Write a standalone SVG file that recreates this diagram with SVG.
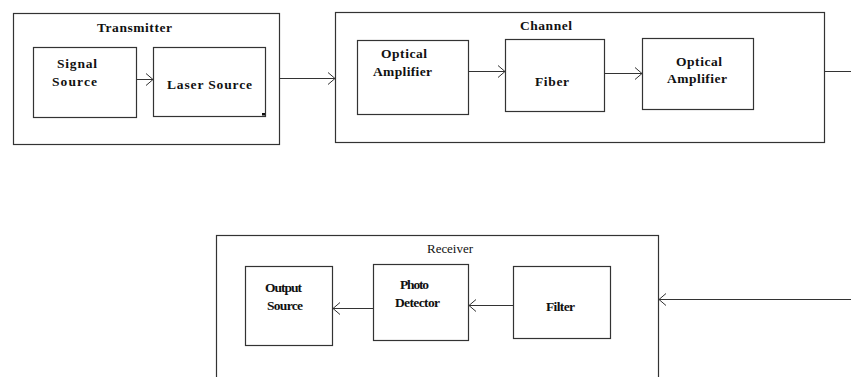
<svg xmlns="http://www.w3.org/2000/svg" width="851" height="377" viewBox="0 0 851 377">
<defs>
<marker id="ah" markerWidth="10" markerHeight="14" refX="8" refY="7" orient="auto" markerUnits="userSpaceOnUse">
<polyline points="1,1 8,7 1,13" fill="none" stroke="#333" stroke-width="1"/>
</marker>
</defs>
<style>
rect.b{fill:#fff;stroke:#333;stroke-width:1.2}
text{font-family:'Liberation Serif','Times New Roman',serif;font-size:13.5px;fill:#111}
.t{font-weight:bold}
.r{font-weight:normal;font-size:13px}
line.c{stroke:#333;stroke-width:1}
</style>
<rect width="851" height="377" fill="#fff"/>
<g id="transmitter">
<rect class="b" x="13.5" y="13.5" width="266" height="131"/>
<text class="t" x="97" y="32" textLength="75" lengthAdjust="spacing">Transmitter</text>
</g>
<g id="signal-source">
<rect class="b" x="33.5" y="47.5" width="103" height="70"/>
<text class="t" x="57" y="68" textLength="40" lengthAdjust="spacing">Signal</text>
<text class="t" x="52" y="86" textLength="45" lengthAdjust="spacing">Source</text>
</g>
<g id="laser-source">
<rect class="b" x="153.5" y="47.5" width="112" height="69"/>
<rect x="262" y="113" width="3" height="2.5" fill="#111"/>
<text class="t" x="167" y="89" textLength="85" lengthAdjust="spacing">Laser Source</text>
</g>
<g id="channel">
<rect class="b" x="335.5" y="12.5" width="489" height="130"/>
<text class="t" x="520" y="30" textLength="52" lengthAdjust="spacing">Channel</text>
</g>
<g id="optical-amplifier-1">
<rect class="b" x="357.5" y="40.5" width="111" height="74"/>
<text class="t" x="381" y="58" textLength="46" lengthAdjust="spacing">Optical</text>
<text class="t" x="373" y="76" textLength="59" lengthAdjust="spacing">Amplifier</text>
</g>
<g id="fiber">
<rect class="b" x="505.5" y="39.5" width="99" height="72"/>
<text class="t" x="535" y="86" textLength="34" lengthAdjust="spacing">Fiber</text>
</g>
<g id="optical-amplifier-2">
<rect class="b" x="642.5" y="38.5" width="111" height="71"/>
<text class="t" x="676" y="66" textLength="46" lengthAdjust="spacing">Optical</text>
<text class="t" x="667" y="83" textLength="60" lengthAdjust="spacing">Amplifier</text>
</g>
<g id="receiver">
<rect class="b" x="216.5" y="235.5" width="442" height="150"/>
<text class="r" x="427" y="253" textLength="46" lengthAdjust="spacing">Receiver</text>
</g>
<g id="output-source">
<rect class="b" x="245.5" y="266.5" width="87" height="79"/>
<text class="t" x="265" y="292" textLength="37" lengthAdjust="spacing">Output</text>
<text class="t" x="267" y="310" textLength="36" lengthAdjust="spacing">Source</text>
</g>
<g id="photo-detector">
<rect class="b" x="373.5" y="264.5" width="95" height="76"/>
<text class="t" x="400" y="289" textLength="29" lengthAdjust="spacing">Photo</text>
<text class="t" x="395" y="307" textLength="45" lengthAdjust="spacing">Detector</text>
</g>
<g id="filter">
<rect class="b" x="513.5" y="266.5" width="97" height="72"/>
<text class="t" x="546" y="311" textLength="29" lengthAdjust="spacing">Filter</text>
</g>
<g id="connectors">
<line class="c" x1="136" y1="79.5" x2="153" y2="79.5" marker-end="url(#ah)"/>
<line class="c" x1="280" y1="78.5" x2="335" y2="78.5" marker-end="url(#ah)"/>
<line class="c" x1="469" y1="71.5" x2="505" y2="71.5" marker-end="url(#ah)"/>
<line class="c" x1="605" y1="73.5" x2="642" y2="73.5" marker-end="url(#ah)"/>
<line class="c" x1="825" y1="71.5" x2="851" y2="71.5"/>
<line class="c" x1="851" y1="299.5" x2="659" y2="299.5" marker-end="url(#ah)"/>
<line class="c" x1="513" y1="305.5" x2="469" y2="305.5" marker-end="url(#ah)"/>
<line class="c" x1="373" y1="308.5" x2="333" y2="308.5" marker-end="url(#ah)"/>
</g>
</svg>
